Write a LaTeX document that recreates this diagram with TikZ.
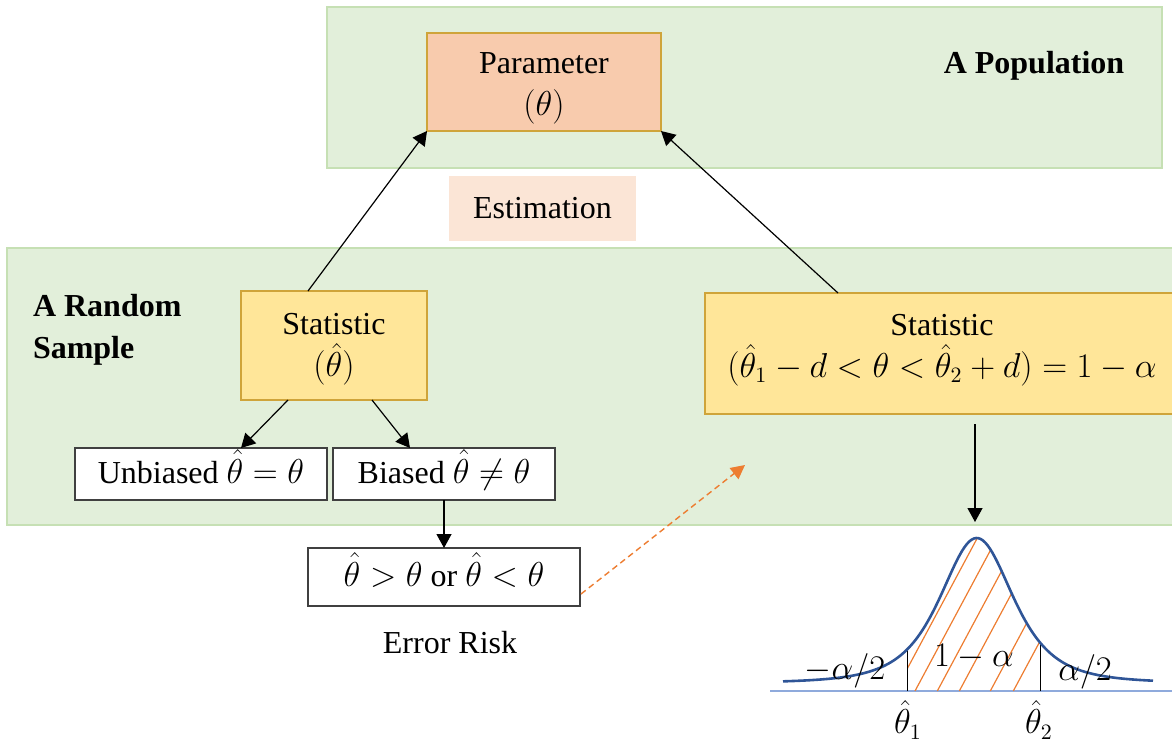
\documentclass[tikz,border=0pt]{standalone}
\usepackage{fontspec}
\setmainfont{Liberation Serif}
\usetikzlibrary{arrows.meta,calc}

\definecolor{regionfill}{HTML}{E2EFDA}
\definecolor{regionline}{HTML}{C6E0B4}
\definecolor{paramfill}{HTML}{F8CBAD}
\definecolor{statfill}{HTML}{FFE699}
\definecolor{goldline}{HTML}{CFA43A}
\definecolor{estfill}{HTML}{FBE5D6}
\definecolor{boxline}{HTML}{404040}
\definecolor{riskorange}{HTML}{ED7D31}
\definecolor{curveblue}{HTML}{2F5597}
\definecolor{axisblue}{HTML}{8FAADC}

\tikzset{
  every node/.style={font=\fontsize{16}{21}\selectfont, inner sep=0pt, outer sep=0pt},
  region/.style={fill=regionfill, draw=regionline, line width=1pt},
  parambox/.style={fill=paramfill, draw=goldline, line width=0.7pt},
  statbox/.style={fill=statfill, draw=goldline, line width=0.7pt},
  estbox/.style={fill=estfill},
  plainbox/.style={fill=white, draw=boxline, line width=0.8pt, text height=12pt, text depth=3pt},
  boxtext/.style={align=center},
  link/.style={line width=0.6pt, -{Triangle[length=7pt,width=7.5pt]}},
  risklink/.style={riskorange, line width=0.7pt, dash pattern=on 3pt off 2pt,
                   -{Triangle[length=7pt,width=7pt]}},
  bell/.style={curveblue, line width=1.3pt},
  hatch/.style={riskorange, line width=0.6pt},
  heading/.style={font=\fontsize{16}{21}\selectfont\bfseries, align=left}
}

\begin{document}
\begin{tikzpicture}[x=0.5pt,y=-0.5pt]
\useasboundingbox (0,0) rectangle (1172,744);

% population and sample regions
\node[region, minimum width=417.5pt, minimum height=80.5pt] (population) at (744.5,87.5) {};
\node[heading] (poplabel) at (1034,66) {A Population};

\node[region, minimum width=584pt, minimum height=138.5pt] (sample) at (591,386.5) {};
\node[heading, anchor=west] (samplelabel) at (33,330) {A Random\\Sample};

% parameter and estimation
\node[parambox, minimum width=117pt, minimum height=49pt] (param) at (544,82) {};
\node[boxtext] (paramtext) at (544,88) {Parameter\\$(\theta)$};
\node[estbox, minimum width=93.5pt, minimum height=32.5pt] (estim) at (542.5,208.5) {Estimation};

% point estimate branch
\node[statbox, minimum width=93pt, minimum height=54.5pt] (stat1) at (334,345.5) {};
\node[boxtext] (stat1text) at (334,349)
  {Statistic\\$\bigl(\hat{\theta}\bigr)$};
\node[plainbox, minimum width=126pt, minimum height=26pt] (unbiased) at (201,474)
  {Unbiased $\hat{\theta}=\theta$};
\node[plainbox, minimum width=111pt, minimum height=26pt] (biased) at (444,474)
  {Biased $\hat{\theta}\neq\theta$};
\node[plainbox, minimum width=136pt, minimum height=29pt] (error) at (444,577)
  {$\hat{\theta}>\theta$ or $\hat{\theta}<\theta$};
\node (risk) at (450,643) {Error Risk};

% interval estimate branch
\node[statbox, minimum width=237.5pt, minimum height=60.5pt] (stat2) at (942.5,353.5) {};
\node[boxtext] (stat2text) at (942,350)
  {Statistic\\$\bigl(\hat{\theta}_1-d<\theta<\hat{\theta}_2+d\bigr)=1-\alpha$};

% connectors
\draw[link] ($(stat1.north)+(-26,0)$) -- (param.south west);
\draw[link] ($(stat2.north west)+(133,0)$) -- (param.south east);
\draw[link] ($(stat1.south)+(-46,0)$) -- ($(unbiased.north)+(40,0)$);
\draw[link] ($(stat1.south)+(38,0)$) -- ($(biased.north)+(-34,0)$);
\draw[link] (biased.south) -- (error.north);

\coordinate (risktip) at (745,465);
\draw[risklink] ($(error.east)+(1,17)$) -- (risktip);

\coordinate (curvetop) at (975,522);
\draw[link] ($(stat2.south -| curvetop)+(0,10)$) -- (curvetop);

% sampling distribution
\draw[axisblue, line width=0.9pt] (770,691) -- (1172,691);
\begin{scope}
  \clip plot[domain=907:1040, samples=80] (\x,{683-145/(1+((\x-976.7)/67)^2)^2})
        -- (1040,691) -- (907,691) -- cycle;
  \foreach \b in {895.3,915,937.3,959.3,990.3,1013.3}
    \draw[hatch] (\b,691) -- ({\b+107.2},491);
\end{scope}
\draw[line width=0.5pt] (907,691) -- (907,{683-145/(1+((907-976.7)/67)^2)^2});
\draw[line width=0.5pt] (1040,691) -- (1040,{683-145/(1+((1040-976.7)/67)^2)^2});
\draw[bell] plot[domain=783:1153, samples=160] (\x,{683-145/(1+((\x-976.7)/67)^2)^2});

\node (lefttail) at (845,671) {$-\alpha/2$};
\node (middle) at (974,657) {$1-\alpha$};
\node (righttail) at (1085,672) {$\alpha/2$};
\node (lowend) at (908,720) {$\hat{\theta}_1$};
\node (highend) at (1039,720) {$\hat{\theta}_2$};
\end{tikzpicture}
\end{document}
